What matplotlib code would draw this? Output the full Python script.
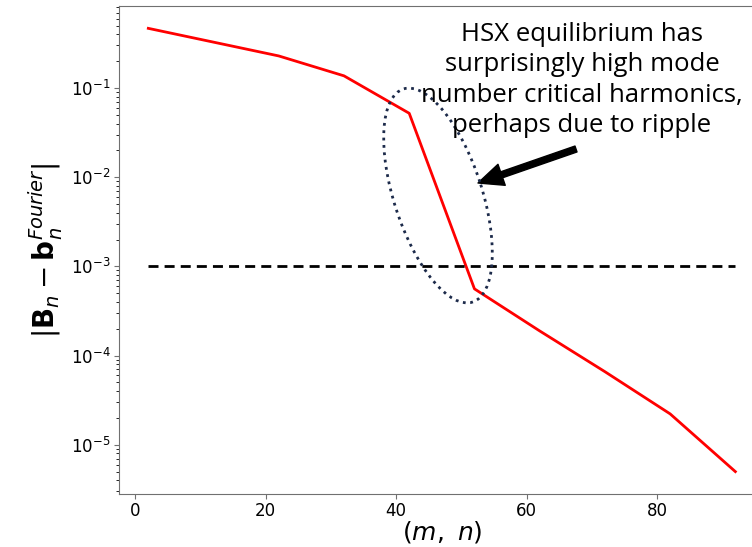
import numpy as np
import matplotlib.pyplot as plt
from matplotlib.patches import Ellipse

# harmonic index and error of the Fourier representation
mode = [2, 12, 22, 32, 42, 52, 62, 72, 82, 92]
err = [0.467, 0.327, 0.229, 0.137, 0.0521, 5.6e-4, 1.89e-4, 6.6e-5, 2.22e-5, 5.0e-6]
threshold = 1e-3

note = ("HSX equilibrium has\nsurprisingly high mode\n"
        "number critical harmonics,\nperhaps due to ripple")

fig = plt.figure(figsize=(7.52, 5.47), dpi=100)
ax = fig.add_axes([0.1582, 0.0973, 0.8587, 0.8914])

ax.semilogy(mode, err, color='red', lw=2)
ax.plot([mode[0], mode[-1]], [threshold, threshold], color='black', lw=2,
        dashes=(3.6, 2.2))

ax.set_xlabel(r'$(m,\ n)$', fontsize=18, labelpad=-1)
ax.set_ylabel(r'$|\mathbf{B}_n - \mathbf{b}_n^{Fourier}|$', fontsize=20, labelpad=4)
ax.tick_params(labelsize=12, color='#707070', pad=2.5)
for s in ax.spines.values():
    s.set_color('#707070')

# callout drawn on top, positioned in inches on the figure
fig.text(582 / 752, 1 - 80 / 547, note, ha='center', va='center',
         fontsize=18.5, family='Open Sans', linespacing=1.28, color='black')
fig.add_artist(Ellipse((4.38, (547 - 195.5) / 100), width=2.24, height=0.88,
                       angle=108, transform=fig.dpi_scale_trans, fill=False,
                       edgecolor='#1c2a4a', lw=2, linestyle=':'))
ax.annotate('', xy=(478, 547 - 183), xytext=(576, 547 - 149),
            xycoords='figure pixels', textcoords='figure pixels',
            arrowprops=dict(facecolor='black', edgecolor='black', width=4.5,
                            headwidth=16, headlength=18, shrink=0))

fig.savefig('out.png', dpi=100)
